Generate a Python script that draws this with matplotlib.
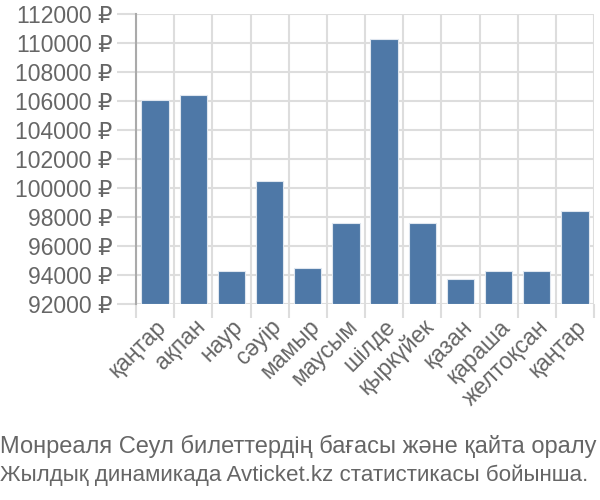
import matplotlib
matplotlib.use("Agg")
import matplotlib.pyplot as plt
from matplotlib.ticker import FuncFormatter, MultipleLocator, FixedLocator

months = ["қаңтар", "ақпан", "наур", "сәуір", "мамыр", "маусым", "шілде",
          "қыркүйек", "қазан", "қараша", "желтоқсан", "қаңтар"]
prices = [106100, 106400, 94280, 100460, 94460, 97600, 110250,
          97600, 93750, 94280, 94280, 98410]
caption = ["Монреаля Сеул билеттердің бағасы және қайта оралу",
           "Жылдық динамикада Avticket.kz статистикасы бойынша."]

plt.rcParams['font.family'] = ['Liberation Sans', 'DejaVu Sans']
text_col = '#666666'
grid_col = '#dddddd'

fig = plt.figure(figsize=(6, 5), dpi=100)
ax = fig.add_axes([136/600, 1 - 304/500, 458/600, 290/500])

x = list(range(len(months)))
ax.bar(x, [p - 92000 for p in prices], bottom=92000, width=0.72,
       color='#4e78a7', edgecolor='#dfe6ef', linewidth=0.8, zorder=3)

ax.set_xlim(-0.5, len(months) - 0.5)
ax.set_ylim(92000, 112000)

ax.yaxis.set_major_locator(MultipleLocator(2000))
ax.yaxis.set_major_formatter(FuncFormatter(lambda v, p: f"{int(v)} ₽"))
ax.tick_params(axis='y', length=14, color=grid_col, width=1.5, pad=3,
               labelsize=16.5, labelcolor=text_col)

ax.xaxis.set_major_locator(FixedLocator(x))
ax.xaxis.set_minor_locator(FixedLocator([i - 0.5 for i in range(len(months) + 1)]))
ax.set_xticklabels(months, rotation=45, ha='right', va='top',
                   rotation_mode='anchor')
ax.tick_params(axis='x', which='major', length=0, pad=8,
               labelsize=16.5, labelcolor=text_col)
ax.tick_params(axis='x', which='minor', length=10, color=grid_col, width=1.5)

ax.grid(True, axis='y', color=grid_col, linewidth=1.5, zorder=0)
ax.grid(True, axis='x', which='minor', color=grid_col, linewidth=1.5, zorder=0)

for side in ['top', 'right', 'bottom']:
    ax.spines[side].set_visible(False)
ax.spines['left'].set_color('#aaaaaa')
ax.spines['left'].set_linewidth(1.5)

# caption lines, second one slightly smaller so it fits the width
fig.text(0.0, 1 - 446/500, caption[0], fontsize=17, color=text_col,
         ha='left', va='center')
fig.text(0.0, 1 - 475/500, caption[1], fontsize=16.1, color=text_col,
         ha='left', va='center')

fig.savefig("out.png", dpi=100)
